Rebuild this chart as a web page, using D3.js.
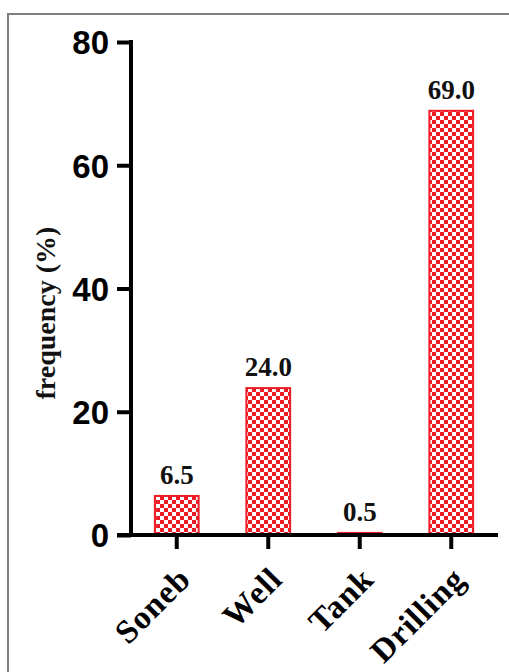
<!DOCTYPE html>
<html>
<head>
<meta charset="utf-8">
<script src="https://cdn.jsdelivr.net/npm/d3@7"></script>
<style>
  html, body { margin: 0; padding: 0; background: #fff; }
  svg { display: block; }
</style>
</head>
<body>
<script>
const categories = ["Soneb", "Well", "Tank", "Drilling"];
const values = [6.5, 24.0, 0.5, 69.0];
const valueLabels = ["6.5", "24.0", "0.5", "69.0"];
const yTicks = [0, 20, 40, 60, 80];
const yTitle = "frequency (%)";

const W = 509, H = 672;
const red = "#ee1c25";
const svg = d3.select("body").append("svg").attr("width", W).attr("height", H);

const defs = svg.append("defs");
const pat = defs.append("pattern").attr("id", "checker")
  .attr("patternUnits", "userSpaceOnUse").attr("width", 8).attr("height", 8);
pat.append("rect").attr("width", 8).attr("height", 8).attr("fill", "#fff");
pat.append("rect").attr("x", 0).attr("y", 0).attr("width", 4).attr("height", 4).attr("fill", red);
pat.append("rect").attr("x", 4).attr("y", 4).attr("width", 4).attr("height", 4).attr("fill", red);

// frame
svg.append("path").attr("d", `M8,${H} L8,14 L${W},14`)
  .attr("fill", "none").attr("stroke", "#808080").attr("stroke-width", 2);

const y = d3.scaleLinear().domain([0, 80]).range([535, 42]);
const x = d3.scaleBand().domain(categories).range([131, 497]).paddingInner(0.5).paddingOuter(0.25);

// bars
svg.selectAll("rect.bar").data(values).join("rect")
  .attr("class", "bar")
  .attr("x", (d, i) => x(categories[i]) + 1)
  .attr("y", d => y(d) + 1)
  .attr("width", x.bandwidth() - 2)
  .attr("height", d => Math.max(0, y(0) - y(d) - 1))
  .attr("fill", "url(#checker)")
  .attr("stroke", red).attr("stroke-width", 2);

// value labels
svg.selectAll("text.val").data(values).join("text")
  .attr("class", "val")
  .attr("x", (d, i) => x(categories[i]) + x.bandwidth() / 2)
  .attr("y", d => y(d) - 11)
  .attr("text-anchor", "middle")
  .attr("font-family", "Liberation Serif, Times New Roman, serif")
  .attr("font-weight", "bold").attr("font-size", 27)
  .attr("fill", "#111")
  .text((d, i) => valueLabels[i]);

// y axis
const yAxis = d3.axisLeft(y).tickValues(yTicks).tickSize(14).tickPadding(8).tickFormat(d3.format("d"));
const gy = svg.append("g").attr("transform", "translate(131,0)").call(yAxis);
gy.select(".domain").attr("stroke", "#000").attr("stroke-width", 4).attr("d", `M0,${y(80)-2}V${y(0)+2}`);
gy.selectAll(".tick line").attr("stroke", "#000").attr("stroke-width", 4);
gy.selectAll(".tick text").attr("font-family", "Liberation Sans, Arial, sans-serif")
  .attr("font-weight", "bold").attr("font-size", 33).attr("fill", "#000")
  .attr("dy", "0.36em");

// x axis
const xAxis = d3.axisBottom(x).tickSize(14).tickFormat("");
const gx = svg.append("g").attr("transform", `translate(0,${y(0)})`).call(xAxis);
gx.select(".domain").attr("stroke", "#000").attr("stroke-width", 4).attr("d", "M117,0H498");
gx.selectAll(".tick line").attr("stroke", "#000").attr("stroke-width", 4);

// x labels
svg.selectAll("text.xl").data(categories).join("text")
  .attr("class", "xl")
  .attr("text-anchor", "end")
  .attr("transform", d => `translate(${x(d) + x.bandwidth() / 2 + 16},${y(0) + 46}) rotate(-45)`)
  .attr("font-family", "Liberation Serif, Times New Roman, serif")
  .attr("font-weight", "bold").attr("font-size", 33)
  .attr("letter-spacing", 1)
  .attr("fill", "#000")
  .text(d => d);

// y title
svg.append("text")
  .attr("transform", "translate(55,313) rotate(-90)")
  .attr("text-anchor", "middle")
  .attr("font-family", "Liberation Serif, Times New Roman, serif")
  .attr("font-weight", "bold").attr("font-size", 28)
  .attr("fill", "#111")
  .text(yTitle);
</script>
</body>
</html>
